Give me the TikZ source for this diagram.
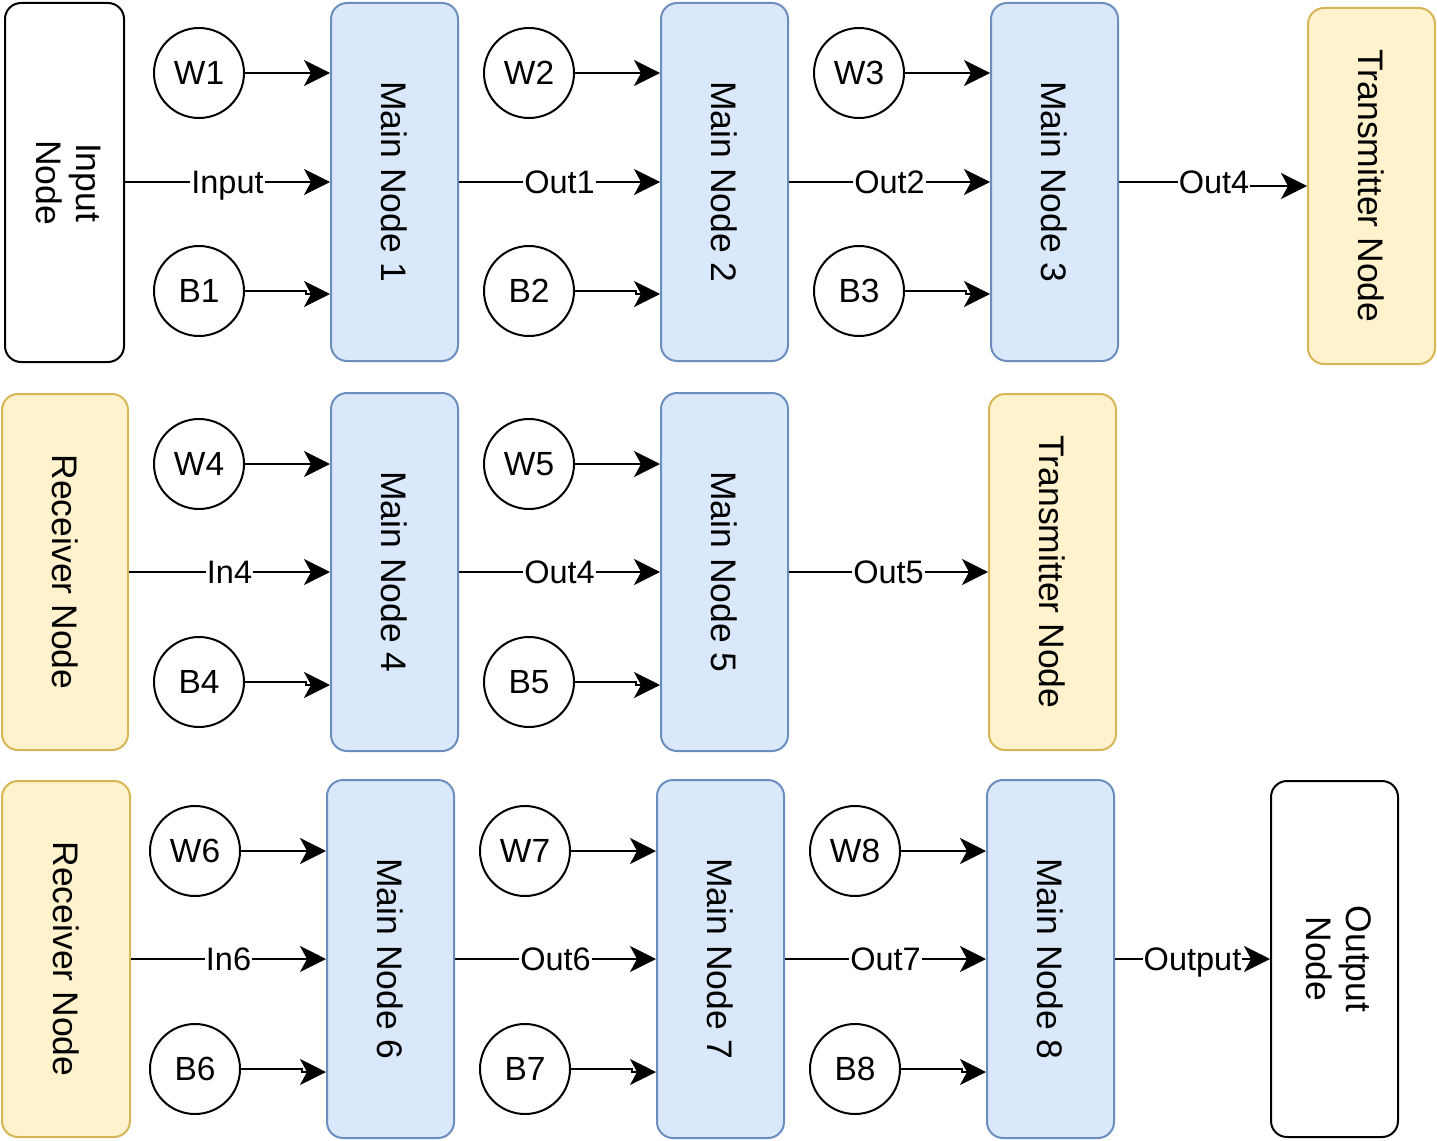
\documentclass[tikz,border=0pt]{standalone}
\usepackage{fontspec}
\setmainfont{Liberation Sans}
\usetikzlibrary{arrows.meta,calc}
\definecolor{bfill}{HTML}{DAE8FC}
\definecolor{bstroke}{HTML}{6C8EBF}
\definecolor{yfill}{HTML}{FFF2CC}
\definecolor{ystroke}{HTML}{D6B656}
\begin{document}
\begin{tikzpicture}[x=1pt,y=-1pt,
  box/.style={draw, line width=2pt, rounded corners=16pt, minimum width=127pt, minimum height=358pt, inner sep=0pt, font=\fontsize{35.5}{40}\selectfont},
  mainbox/.style={box, draw=bstroke, fill=bfill},
  ybox/.style={box, draw=ystroke, fill=yfill, minimum height=356pt},
  wbox/.style={box, draw=black, fill=white, minimum height=356pt},
  circ/.style={circle, draw=black, fill=white, line width=2pt, minimum size=90pt, inner sep=0pt, font=\fontsize{33.5}{40}\selectfont},
  conn/.style={line width=2pt, -{Stealth[length=26pt,width=26pt,inset=7pt]}},
  lbl/.style={fill=white, inner sep=1pt, text height=22pt, text depth=0pt, font=\fontsize{32.5}{38}\selectfont}]
\useasboundingbox (0,0) rectangle (1437,1140);

% ---------- Row 1 ----------
\node[wbox, minimum width=119pt, minimum height=359pt] (in1) at (64.5,182.5) {\rotatebox{-90}{\begin{tabular}{@{}c@{}}Input\\Node\end{tabular}}};
\node[mainbox] (m1) at (394.5,182) {\rotatebox{-90}{Main Node 1}};
\node[mainbox] (m2) at (724.5,182) {\rotatebox{-90}{Main Node 2}};
\node[mainbox] (m3) at (1054.5,182) {\rotatebox{-90}{Main Node 3}};
\node[ybox] (t1) at (1371.5,186) {\rotatebox{-90}{Transmitter Node}};
\node[circ] (w1) at (199,73) {W1};
\node[circ] (b1) at (199,291) {B1};
\node[circ] (w2) at (529,73) {W2};
\node[circ] (b2) at (529,291) {B2};
\node[circ] (w3) at (859,73) {W3};
\node[circ] (b3) at (859,291) {B3};

% ---------- Row 2 ----------
\node[ybox, minimum width=126pt] (r2) at (65,572) {\rotatebox{-90}{Receiver Node}};
\node[mainbox] (m4) at (394.5,572) {\rotatebox{-90}{Main Node 4}};
\node[mainbox] (m5) at (724.5,572) {\rotatebox{-90}{Main Node 5}};
\node[ybox] (t2) at (1052.5,572) {\rotatebox{-90}{Transmitter Node}};
\node[circ] (w4) at (199,464) {W4};
\node[circ] (b4) at (199,682) {B4};
\node[circ] (w5) at (529,464) {W5};
\node[circ] (b5) at (529,682) {B5};

% ---------- Row 3 ----------
\node[ybox, minimum width=128pt] (r3) at (66,959) {\rotatebox{-90}{Receiver Node}};
\node[mainbox] (m6) at (390.5,959) {\rotatebox{-90}{Main Node 6}};
\node[mainbox] (m7) at (720.5,959) {\rotatebox{-90}{Main Node 7}};
\node[mainbox] (m8) at (1050.5,959) {\rotatebox{-90}{Main Node 8}};
\node[wbox] (o3) at (1334.5,959) {\rotatebox{-90}{\begin{tabular}{@{}c@{}}Output\\Node\end{tabular}}};
\node[circ] (w6) at (195,851) {W6};
\node[circ] (b6) at (195,1069) {B6};
\node[circ] (w7) at (525,851) {W7};
\node[circ] (b7) at (525,1069) {B7};
\node[circ] (w8) at (855,851) {W8};
\node[circ] (b8) at (855,1069) {B8};

% ---------- W connectors ----------
\foreach \w/\m in {w1/m1,w2/m2,w3/m3,w4/m4,w5/m5,w6/m6,w7/m7,w8/m8}
  \draw[conn] (\w.east) -- (\w.east -| \m.west);
% ---------- B connectors ----------
\foreach \b/\m in {b1/m1,b2/m2,b3/m3,b4/m4,b5/m5,b6/m6,b7/m7,b8/m8}
  \draw[conn] (\b.east) -- ++(61,0) |- ($(\b -| \m.west)+(0,3)$);

% ---------- Main flow ----------
\draw[conn] (in1.east |- m1.west) -- node[lbl]{Input} (m1.west);
\draw[conn] (m1.east) -- node[lbl]{Out1} (m2.west);
\draw[conn] (m2.east) -- node[lbl]{Out2} (m3.west);
\draw[conn] (m3.east) -- node[lbl,pos=1]{Out4} ++(95,0) |- (t1.west);

\draw[conn] (r2.east |- m4.west) -- node[lbl]{In4} (m4.west);
\draw[conn] (m4.east) -- node[lbl]{Out4} (m5.west);
\draw[conn] (m5.east) -- node[lbl]{Out5} (t2.west);

\draw[conn] (r3.east) -- node[lbl]{In6} (m6.west);
\draw[conn] (m6.east) -- node[lbl]{Out6} (m7.west);
\draw[conn] (m7.east) -- node[lbl]{Out7} (m8.west);
\draw[conn] (m8.east) -- node[lbl]{Output} (o3.west);
\end{tikzpicture}
\end{document}
